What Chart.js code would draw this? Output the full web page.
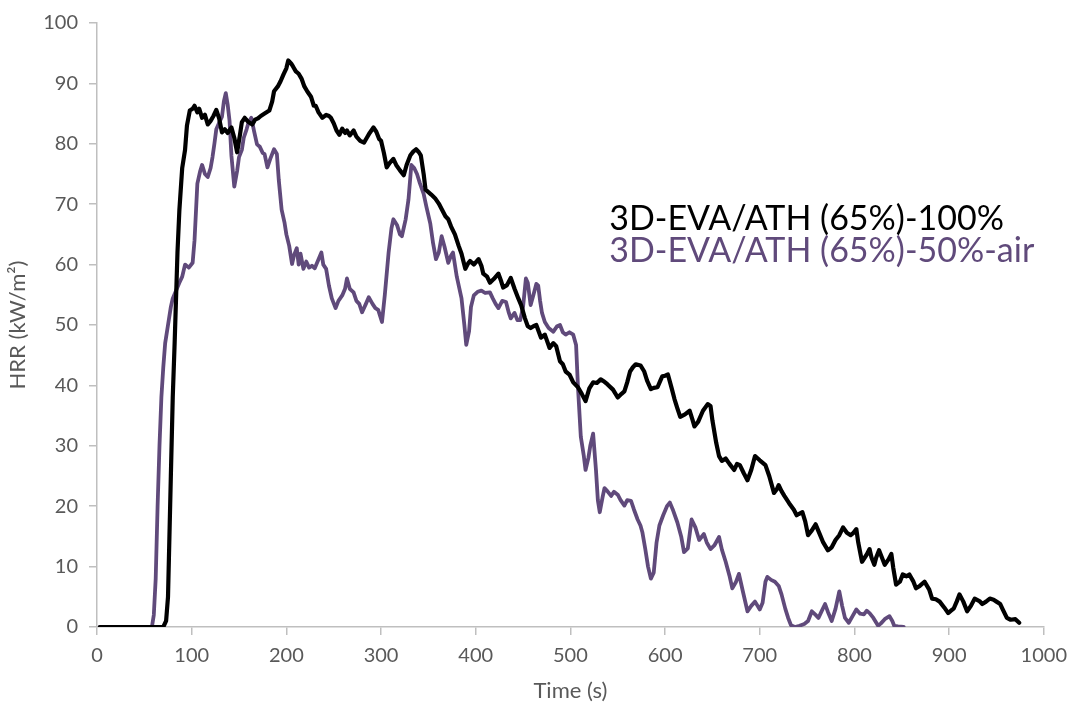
<!DOCTYPE html>
<html>
<head>
<meta charset="utf-8">
<title>HRR</title>
<script src="https://cdn.jsdelivr.net/npm/chart.js@4/dist/chart.umd.min.js"></script>
<style>
  html, body { margin: 0; padding: 0; background: #fff; }
  #hrr-chart { display: block; }
</style>
</head>
<body>
<canvas id="hrr-chart" width="1076" height="711"></canvas>
<script>
// 3D-EVA/ATH (65%) - 100%
const fullTime = [3,70,73,75,78,80,82,85,87,90,93,95,98,101,103,106,108,111,114,117,120,123,126,129,132,135,138,142,145,148,151,153,156,160,164,167,170,173,177,182,185,187,191,194,197,200,202,205,207,210,213,216,219,222,226,229,231,234,238,242,245,247,250,253,256,259,262,264,267,271,274,278,282,285,288,292,295,298,300,303,306,309,313,316,320,324,327,331,334,337,340,342,345,347,350,353,357,361,364,368,371,374,378,382,385,389,392,394,398,403,406,408,412,415,419,424,427,429,433,437,441,445,448,452,455,458,461,464,469,473,478,482,485,489,492,495,499,503,508,512,516,520,524,528,532,536,539,545,550,554,557,560,563,566,569,574,578,581,585,588,592,595,597,600,603,607,610,613,616,621,626,629,631,635,640,645,648,650,654,657,660,664,668,673,676,679,683,687,691,695,700,706,710,715,718,720,723,726,731,736,739,741,745,748,751,755,759,763,767,772,776,780,784,788,792,796,799,802,804,808,813,816,818,821,823,826,829,832,836,839,841,844,848,851,855,858,862,865,869,874,879,882,886,890,895,899,902,905,908,911,915,919,923,927,932,935,939,943,947,950,954,957,961,965,970,974,978];
const fullHrr = [0,0,1,5,25,38,47,62,69,76,79,83,85.5,85.8,86.3,85.2,85.8,84.3,84.8,83.2,83.8,84.6,85.6,84.2,81.9,82.4,81.8,82.7,81,78.6,81.5,83.6,84.3,83.6,83.2,84,84.2,84.6,85,85.5,87,88.7,89.5,90.4,91.5,92.5,93.8,93.3,92.8,92,91.6,90.8,89.5,88.7,87.8,86.3,86.3,85.2,84.3,84.8,84.6,84.3,83.4,82.2,81.5,82.5,81.8,82.2,81.4,82.2,81.2,80.5,80.2,81,81.8,82.7,82,80.8,80.5,78.5,76.1,76.8,77.5,76.5,75.6,74.8,76.5,78.1,78.7,79.1,78.6,78.1,75,72.4,72,71.6,71,70.1,69.2,68,67.5,66.3,65,63.1,61.8,59.3,60.2,60.6,60,60.9,59.8,58.5,58,57,57.6,58.5,57.2,56.2,56.6,57.8,56,54.4,53.3,51.1,49.8,49.5,49.8,50,47.9,48.4,46.2,47,46.5,44,43.5,42.3,41.8,40.5,39.7,38.6,37.4,39.5,40.5,40.4,41,40.6,40.2,39.3,38,38.6,39,40.5,42.3,43,43.5,43.3,42.3,40.8,39.4,39.6,39.7,40.8,41.5,41.6,41.8,39.5,37.7,36.2,34.8,35.2,35.8,34.3,33.2,34,35.8,36.9,36.6,34.2,30.5,28.3,27.5,27.9,27,26,27,26.8,25.5,24.3,26,28.3,27.6,26.8,25,22.2,22.8,23.5,22.5,21.7,20.5,19.4,18.5,18.7,19,17.5,15.2,16,17,15.5,14,12.7,13.2,14.4,15.2,16.5,15.6,15.2,15.6,16.2,14,10.8,12,12.9,11.5,10.3,11.5,12.7,11.5,10.3,11.2,12.1,9.8,7,7.5,8.7,8.4,8.7,7.6,6.4,6.8,7.5,6.2,4.7,4.6,4.2,3.2,2.3,2.7,3.1,4.2,5.4,4.2,2.6,3.5,4.7,4.3,3.8,4.2,4.7,4.5,4.2,3.8,2.8,1.5,1.2,1.3,0.7];

// 3D-EVA/ATH (65%) - 50%-air
const airTime = [3,58,60,62,64,66,68,70,72,75,78,80,83,87,90,93,97,101,103,106,109,111,114,117,120,122,124,126,129,132,134,136,138,140,142,145,148,150,153,155,158,160,163,166,169,172,175,177,180,183,187,190,192,195,198,200,203,206,208,211,213,215,218,221,224,227,230,233,237,239,242,245,248,252,255,259,262,264,267,271,274,277,280,284,287,291,294,297,301,304,308,311,313,317,320,322,326,329,332,335,338,341,345,348,352,355,358,361,364,367,371,374,376,380,385,388,390,393,395,398,402,406,410,415,418,421,424,428,432,435,437,441,444,447,450,453,455,458,461,464,466,468,470,473,477,482,486,489,492,495,499,503,506,508,511,514,516,519,521,524,527,529,531,534,536,539,543,546,550,553,557,560,564,567,571,574,576,579,582,585,588,591,594,598,602,605,608,613,617,620,624,628,632,636,641,644,648,652,657,660,664,668,671,675,678,682,687,691,695,700,703,706,708,712,716,720,723,727,730,733,737,742,747,751,755,759,762,765,769,772,776,780,784,787,790,794,798,802,806,810,813,816,820,825,828,832,837,840,842,846,852];
const airHrr = [0,0,2,8,20,30,38,43,47,50,53,54.4,55.5,57,58,60,59.5,60.3,64,73.4,75.5,76.5,75,74.5,76,77.8,80,82.4,83.5,84.5,87,88.4,86.5,83.8,78,72.9,75.5,77.8,79,81,82.4,83.5,84.3,82,79.9,79.5,78.5,78.3,76.1,77.5,79.1,78.3,74,69.1,67,65,63.1,60.1,61.5,62.7,60,61.8,59.3,60.5,59.5,59.8,59.4,60.5,62,60,59.3,56.5,54.4,52.8,54,54.9,56,57.7,56,55.4,54,53.5,52.1,53.5,54.6,53.5,52.8,52.5,50.5,55,62,66,67.5,66.5,65,64.7,67.5,70.8,76.5,76,75,73.5,71.7,69.5,66.8,63.5,60.9,62,64.7,63,60.3,61.5,62,58,54.4,50,46.7,49,53,54.9,55.5,55.7,55.3,55.4,54.4,53.5,52.8,54,53.8,52,51.1,52,50.8,50.8,53,57.7,57,53.3,55,56.8,56.5,54,52,50.5,49.5,48.9,49.8,50,48.8,48.4,48.8,48.4,46.7,39.7,31.5,28.5,26,28,30,32,26,21,19,21.5,23,22.5,21.7,22.4,21.9,21,20.1,21,20.9,19.5,17.8,16.8,15.7,13,10,8,9,14,16.8,18.5,20,20.6,19.5,17.3,15,12.4,13,17.8,16.5,14.4,15.4,14,12.9,13.5,14.9,12.8,10.8,8.5,6.4,7.5,8.8,6,2.6,3.5,4.2,2.9,4,7.5,8.3,7.8,7.5,6.8,5.4,3,1.5,0.3,0,0.2,0.5,1,2.6,2,1.5,2.5,3.8,2.5,1,3,5.9,3.5,1.5,0.7,1.8,2.9,2.2,2.1,2.7,2.3,1.5,0.2,0.6,1.3,1.8,1,0.2,0.1,0];

const seriesLabels = ['3D-EVA/ATH (65%)-100%', '3D-EVA/ATH (65%)-50%-air'];
const seriesColors = ['#000000', '#604a7b'];

const axisGray = '#bfbfbf';
const labelGray = '#595959';
const fontFamily = "Lato, 'Open Sans', sans-serif";

function toPoints(xs, ys) {
  return xs.map((x, i) => ({ x, y: ys[i] }));
}

// series names written in their own colour, stacked inside the plot
const seriesText = {
  id: 'seriesText',
  afterDatasetsDraw(chart) {
    const { ctx, scales } = chart;
    const x = scales.x.getPixelForValue(541);
    const y0 = scales.y.getPixelForValue(67.5);
    ctx.save();
    ctx.font = `34px ${fontFamily}`;
    ctx.textAlign = 'left';
    ctx.textBaseline = 'middle';
    seriesLabels.forEach((txt, i) => {
      ctx.fillStyle = seriesColors[i];
      ctx.fillText(txt, x, y0 + i * 32);
    });
    ctx.restore();
  }
};

const ctx = document.getElementById('hrr-chart').getContext('2d');
new Chart(ctx, {
  type: 'line',
  data: {
    datasets: [
      {
        label: seriesLabels[0],
        data: toPoints(fullTime, fullHrr),
        borderColor: seriesColors[0],
        borderWidth: 4.2,
        pointRadius: 0,
        tension: 0,
        borderJoinStyle: 'round',
        borderCapStyle: 'round'
      },
      {
        label: seriesLabels[1],
        data: toPoints(airTime, airHrr),
        borderColor: seriesColors[1],
        borderWidth: 3.8,
        pointRadius: 0,
        tension: 0,
        borderJoinStyle: 'round',
        borderCapStyle: 'round'
      }
    ]
  },
  options: {
    responsive: false,
    animation: false,
    layout: { padding: { left: 0, right: 28, top: 13, bottom: 0 } },
    plugins: {
      legend: { display: false },
      tooltip: { enabled: false }
    },
    scales: {
      x: {
        type: 'linear',
        min: 0,
        max: 1000,
        afterFit: (scale) => { scale.height = 84; },
        ticks: {
          stepSize: 100,
          color: labelGray,
          font: { family: fontFamily, size: 20 },
          padding: 9,
          maxRotation: 0,
          callback: (v) => String(v)
        },
        grid: { drawOnChartArea: false, drawTicks: true, tickLength: 8, color: axisGray, lineWidth: 1.5 },
        border: { display: true, color: axisGray, width: 1.5 },
        title: { display: true, text: 'Time (s)', color: labelGray, font: { family: fontFamily, size: 22 }, padding: { top: 0, bottom: 7 } }
      },
      y: {
        min: 0,
        max: 100,
        afterFit: (scale) => { scale.width = 97; },
        ticks: { stepSize: 10, color: labelGray, font: { family: fontFamily, size: 20 }, padding: 11 },
        grid: { drawOnChartArea: false, drawTicks: true, tickLength: 8, color: axisGray, lineWidth: 1.5 },
        border: { display: true, color: axisGray, width: 1.5 },
        title: { display: true, text: 'HRR (kW/m²)', color: labelGray, font: { family: fontFamily, size: 22 }, padding: { top: 5, bottom: 0 } }
      }
    }
  },
  plugins: [seriesText]
});
</script>
</body>
</html>
